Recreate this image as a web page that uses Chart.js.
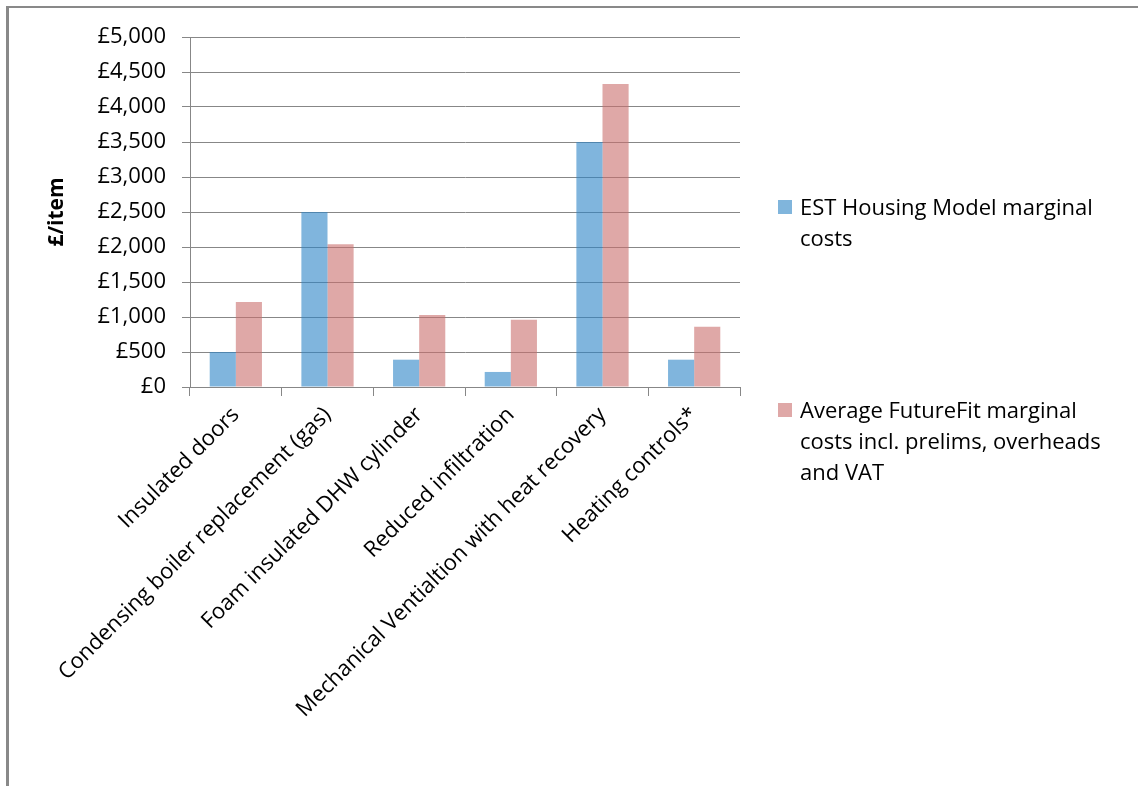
<!DOCTYPE html>
<html>
<head>
<meta charset="utf-8">
<script src="https://cdn.jsdelivr.net/npm/chart.js@4.4.1/dist/chart.umd.min.js"></script>
<style>
  html, body { margin: 0; padding: 0; background: #fff; }
  #wrap { position: relative; width: 1138px; height: 786px; overflow: hidden; }
  #frame { position: absolute; left: 6px; top: 6px; width: 1200px; height: 900px;
           border-left: 3px solid #898989; border-top: 2px solid #898989; box-sizing: border-box; }
  #chartCosts { position: absolute; left: 0; top: 0; }
  .legend { position: absolute; left: 778px; top: 0; font-family: "Open Sans", sans-serif; font-size: 22px;
            line-height: 31px; color: #000; }
  .legend .item { position: absolute; left: 0; width: 350px; padding-left: 22px; white-space: pre-line; }
  .legend .sw { position: absolute; left: 0; top: 9px; width: 14px; height: 14px; }
</style>
</head>
<body>
<div id="wrap">
  <div id="frame"></div>
  <canvas id="chartCosts" width="1138" height="786"></canvas>
  <div class="legend" id="legend"></div>
</div>
<script>
  // Datos
  const categorias = [
    "Insulated doors",
    "Condensing boiler replacement (gas)",
    "Foam insulated DHW cylinder",
    "Reduced infiltration",
    "Mechanical Ventialtion with heat recovery",
    "Heating controls*",
  ];
  const estHousing = [500, 2500, 390, 215, 3500, 390];
  const futureFit = [1215, 2040, 1030, 960, 4330, 860];
  const serieNombres = [
    "EST Housing Model marginal\ncosts",
    "Average FutureFit marginal\ncosts incl. prelims, overheads\nand VAT",
  ];
  const yTicks = [0, 500, 1000, 1500, 2000, 2500, 3000, 3500, 4000, 4500, 5000];

  const FONT = "'Open Sans', sans-serif";
  const GRIS = "#878787";
  const colores = ["rgba(43,132,198,0.6)", "rgba(202,110,108,0.6)"];
  const coloresLeyenda = ["#80b5dc", "#dfa8a7"];

  const el = document.getElementById("chartCosts");
  new Chart(el, {
    type: "bar",
    data: {
      labels: categorias,
      datasets: [
        { label: serieNombres[0], data: estHousing, backgroundColor: colores[0], borderWidth: 0 },
        { label: serieNombres[1], data: futureFit, backgroundColor: colores[1], borderWidth: 0 },
      ],
    },
    options: {
      responsive: false,
      animation: false,
      categoryPercentage: 0.57,
      barPercentage: 1.0,
      layout: { padding: { left: 0, top: 37, right: 398, bottom: 0 } },
      plugins: { legend: { display: false }, tooltip: { enabled: false } },
      scales: {
        x: {
          afterFit: (axis) => { axis.height = 786 - 387; },
          grid: { drawOnChartArea: false, drawTicks: true, tickLength: 9, color: GRIS, offset: true },
          border: { color: GRIS, width: 1 },
          ticks: {
            color: "#000",
            font: { family: FONT, size: 22 },
            maxRotation: 45,
            minRotation: 45,
            autoSkip: false,
            padding: 6,
          },
        },
        y: {
          min: 0,
          max: 5000,
          afterFit: (axis) => { axis.width = 190; },
          afterBuildTicks: (axis) => { axis.ticks = yTicks.map((v) => ({ value: v })); },
          grid: { color: GRIS, lineWidth: 1, drawTicks: true, tickLength: 8 },
          border: { color: GRIS, width: 1 },
          ticks: {
            color: "#000",
            font: { family: FONT, size: 22 },
            padding: 16,
            callback: (v) => "£" + Number(v).toLocaleString("en-GB"),
          },
          title: {
            display: true,
            text: "£/item",
            color: "#000",
            font: { family: FONT, size: 21, weight: "bold" },
            padding: { top: 44, bottom: 0 },
          },
        },
      },
    },
  });

  // Leyenda HTML (el texto se parte en varias líneas como en el original)
  const leyenda = document.getElementById("legend");
  const posY = [191, 394];
  serieNombres.forEach((nombre, i) => {
    const item = document.createElement("div");
    item.className = "item";
    item.style.top = posY[i] + "px";
    const sw = document.createElement("span");
    sw.className = "sw";
    sw.style.background = coloresLeyenda[i];
    item.appendChild(sw);
    item.appendChild(document.createTextNode(nombre));
    leyenda.appendChild(item);
  });
</script>
</body>
</html>
